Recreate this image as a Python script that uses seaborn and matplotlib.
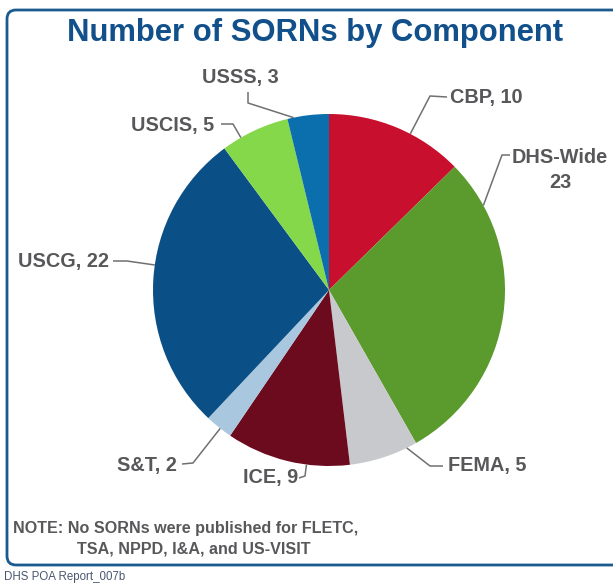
"""
Pie chart: number of SORNs by DHS component.
Saves out.png (613 x 584 px).
"""

import numpy as np
import matplotlib.pyplot as plt
from matplotlib.patches import FancyBboxPatch
import seaborn as sns

# ─────────────────────────────────────────
# DATA
# ─────────────────────────────────────────

components = ["CBP", "DHS-Wide", "FEMA", "ICE", "S&T", "USCG", "USCIS", "USSS"]
sorn_counts = [10, 23, 5, 9, 2, 22, 5, 3]

slice_colors = ["#C8102E", "#5B9A2D", "#C8C9CD", "#6D0B1E",
                "#A9C8DF", "#0A4F86", "#84D84A", "#0B6FAE"]

title_text = "Number of SORNs by Component"
note_lines = ["NOTE: No SORNs were published for FLETC,",
              "TSA, NPPD, I&A, and US-VISIT"]
footer_text = "DHS POA Report_007b"

# ─────────────────────────────────────────
# LAYOUT (pixel coords, y measured from the top)
# ─────────────────────────────────────────

W, H = 613, 584
PIE_CENTER = (329, 290)
PIE_RADIUS = 176

# label position, alignment, leader start and elbow
LABEL_LAYOUT = {
    "CBP":      ((450, 97), "left", [(447, 97), (430, 96)]),
    "DHS-Wide": ((560, 170), "center", [(510, 155), (502, 155)]),
    "FEMA":     ((448, 466), "left", [(443, 466), (430, 466)]),
    "ICE":      ((298, 477), "right", [(299, 478), (305, 476)]),
    "S&T":      ((177, 466), "right", [(182, 464), (193, 463)]),
    "USCG":     ((109, 261), "right", [(113, 261), (127, 261)]),
    "USCIS":    ((214, 126), "right", [(221, 124), (233, 124)]),
    "USSS":     ((240, 78), "center", [(248, 92), (248, 103)]),
}

TEXT_GREY = "#58585B"
LINE_GREY = "#707070"
TITLE_BLUE = "#11508A"

sns.set_theme(style="white")
plt.rcParams["font.family"] = ["Liberation Sans", "DejaVu Sans"]


def Y(y):
    return H - y


# ─────────────────────────────────────────
# FIGURE
# ─────────────────────────────────────────

fig = plt.figure(figsize=(W / 100, H / 100), dpi=100)
ax = fig.add_axes([0, 0, 1, 1])

wedges, _ = ax.pie(
    sorn_counts,
    colors=slice_colors,
    startangle=90,
    counterclock=False,
    center=(PIE_CENTER[0], Y(PIE_CENTER[1])),
    radius=PIE_RADIUS,
    wedgeprops={"linewidth": 0},
)
ax.set_xlim(0, W)
ax.set_ylim(0, H)
ax.set_aspect("equal")
ax.axis("off")

# labels with elbow leader lines hooked to the nearest point of each wedge
for wedge, name, n in zip(wedges, components, sorn_counts):
    (tx, ty), ha, pts = LABEL_LAYOUT[name]
    label = f"{name}\n{n}" if name == "DHS-Wide" else f"{name}, {n}"
    ax.text(tx, Y(ty), label, ha=ha, va="center", fontsize=14.3,
            fontweight="bold", color=TEXT_GREY, linespacing=1.35)

    ex, ey = pts[-1]
    ang = np.degrees(np.arctan2(Y(ey) - Y(PIE_CENTER[1]), ex - PIE_CENTER[0]))
    lo, hi = sorted([wedge.theta1, wedge.theta2])
    margin = 0.15 * (hi - lo)
    # bring angle into wedge range
    while ang < lo - 180:
        ang += 360
    while ang > hi + 180:
        ang -= 360
    ang = np.clip(ang, lo + margin, hi - margin)
    axp = PIE_CENTER[0] + PIE_RADIUS * np.cos(np.radians(ang))
    ayp = Y(PIE_CENTER[1]) + PIE_RADIUS * np.sin(np.radians(ang))

    xs = [p[0] for p in pts] + [axp]
    ys = [Y(p[1]) for p in pts] + [ayp]
    ax.plot(xs, ys, color=LINE_GREY, linewidth=1.1, solid_capstyle="butt")

# title
ax.text(315, Y(33), title_text, ha="center", va="center", fontsize=22.3,
        fontweight="bold", color=TITLE_BLUE)

# note
ax.text(13, Y(528), note_lines[0], ha="left", va="center", fontsize=11.6,
        fontweight="bold", color=TEXT_GREY)
ax.text(77, Y(549), note_lines[1], ha="left", va="center", fontsize=11.6,
        fontweight="bold", color=TEXT_GREY)

# rounded frame
frame = FancyBboxPatch((7, Y(565)), 640, 555,
                       boxstyle="round,pad=0,rounding_size=9",
                       facecolor="none", edgecolor="#1B5A8E", linewidth=2)
ax.add_patch(frame)

# footer
ax.text(4, Y(577), footer_text, ha="left", va="center", fontsize=8.3,
        color="#4A5670")

fig.savefig("out.png", dpi=100)
plt.close(fig)
